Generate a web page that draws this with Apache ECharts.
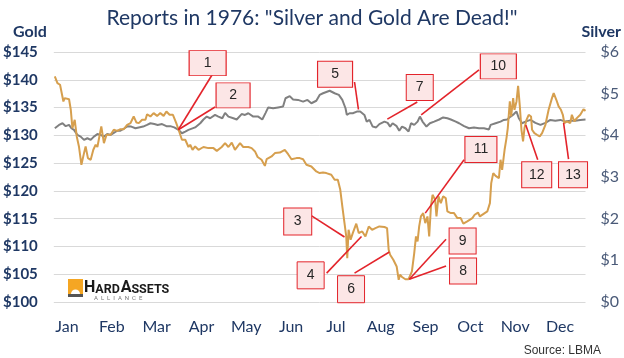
<!DOCTYPE html>
<html>
<head>
<meta charset="utf-8">
<script src="https://cdn.jsdelivr.net/npm/echarts@6/dist/echarts.min.js"></script>
<style>
html,body{margin:0;padding:0;background:#fff;}
#chart{width:624px;height:358px;}
</style>
</head>
<body>
<div id="chart"></div>
<script>
// ---- data ----
const months = ['Jan','Feb','Mar','Apr','May','Jun','Jul','Aug','Sep','Oct','Nov','Dec'];

// day of year (1976) and London gold price, USD/oz
const goldDays = [0.7,2.5,4.3,6.6,7.5,10.5,11.7,12.8,14.4,15.8,17.3,19,20.8,21.9,23.5,25.4,27.2,28.8,30,32.7,34.5,36.3,39.1,41.3,43.7,45.9,48.2,50.5,52.8,53.9,55,56.9,58.5,60.8,63.1,64.2,66.5,68.7,71.1,73.3,75.6,77.5,79.7,82,84.3,85.9,88.2,90.5,92.7,93.9,95.5,97.3,99.6,103,106.4,109.9,112.2,115.6,117.9,120.2,122.5,124.7,128.2,130.4,133.9,136.2,138.5,140.3,143,145.3,146.5,149.9,152.2,155.6,159,161.3,163.6,167,169.3,171.6,173.9,177.3,180.7,183,185.3,187.6,191,193.3,195.5,197.2,198.6,200.1,201.3,202,202.9,204.3,205.8,208.2,209.9,212.3,214.5,216.8,219.1,221.4,224.1,227.6,229.4,230.5,231.5,233.7,236,237.4,238.3,239.7,242,244.2,246.5,248.1,249.3,250.4,251.5,252.7,254.3,255.7,257.2,258.4,259.6,260.7,262.5,263.4,264.8,266.4,268,269.8,270.9,273.3,275.5,277.8,280.1,281.9,284.6,288.1,289.7,292,293.3,296.1,298.4,300.2,301.1,302.5,304.1,306.4,307.5,308.6,310.3,311.6,312.5,313.9,314.8,316.2,317.1,318.5,319.6,320.8,321.9,323,324,325.4,326.9,328.5,329.2,330.8,332.6,334.5,336.1,338.4,340.6,342.9,344.1,345.9,347.5,349.1,350.4,351.4,353.2,355.5,356.6,358.3,360,362.4,364.6,366];
const goldPrices = [140.6,139.4,139.1,136.1,136.7,136.5,134.6,131.3,132.8,129.8,128,124.7,126.8,128,125.9,125.6,127.4,128.3,127.9,131.6,128.6,130.1,130.1,131,130.8,131.1,131.1,131.9,132.2,132.8,133.4,132.3,132.2,132.8,132.8,133.8,133.4,134,133.5,134,133.5,134.3,133.7,133.7,132.2,131,129.2,129.2,127.9,128.3,127.4,128,127.4,127.9,127.7,127.7,127.2,127.9,128.6,127.9,128.7,127.4,128.6,127.9,127.9,127.7,127.1,126.1,125.6,124.5,125.7,126.2,126.8,126.9,127.4,126.6,125.7,125.9,125.9,125.7,124.7,124.4,123.5,123.2,123.3,123.2,122.9,122,122,120.2,117.2,114.2,111.8,107.9,113,111.2,112.4,114.1,112.4,112.7,111.8,113.6,113,113.3,113.6,113.5,113.3,109.4,108.5,107.6,106.4,104,104.9,104.5,104.1,104.1,105.5,108.8,111.8,110.9,113.6,115.4,116,114.2,115.4,111.8,117.2,119.3,118.4,115.4,119,117.8,119,118.7,116.3,116,116,115.1,115.1,114.1,114.5,115.1,115.7,116.1,115.4,115.9,116.3,117.8,121.4,123.2,122.7,122.3,125.6,123.8,127.4,129.5,131.3,136.1,133.4,136.7,134.6,136.1,138.9,135.2,131,128.9,131.3,132.8,133.7,133.4,131,130.4,130.1,129.8,130.4,131.9,134.6,136.7,137.6,136.4,135.2,134.6,133.7,132.2,132.5,132.2,133.7,132.5,133.1,133.7,134.7,134.4];

// day of year (1976) and London silver price, USD/oz
const silverDays = [0.7,3.6,6,8.2,10.5,12.1,13.9,16.2,18.5,20.8,23.1,25.4,27.6,30,32.2,34.5,36.8,39.1,41.3,43.7,45.9,48.7,50.9,53.3,56.2,58.5,61.5,64.2,66.5,69.2,71.5,74.5,77.5,80.2,82.9,85.9,88.2,90.5,92.7,97.3,100.8,103,105.3,107.6,111,113.3,116,117.9,120.2,123.6,125.9,129.3,131.6,133.9,137.3,140.7,143.5,145.8,147.6,151,154.4,157.8,159.5,162.4,164.7,168.1,171.6,174.6,177.3,180.7,183,185.3,189.9,193.3,196.2,198.6,200.8,201.7,203.6,205.8,208.6,210.9,213.8,215.4,217.3,219.5,221.9,224.1,227.6,229.8,231.5,233.2,236,237.8,239.7,242,244.2,245.9,248.1,250.4,252,253.8,256.5,258.9,261.8,265.3,268,270.9,273.3,276.7,279,282.4,285.8,289.2,292.7,296.1,299.5,300.7,304.1,307.5,309.8,312.1,314.4,316.7,318.5,320.1,322.3,324.7,328.1,331.5,335,338.4,341.8,345.2,348.7,352.1,355.5,358.9,362.4,366];
const silverPrices = [4.17,4.25,4.29,4.22,4.25,4.17,4.13,4.01,3.97,3.89,3.93,3.89,3.97,4.03,4.01,3.97,4.03,4.01,4.06,4.11,4.11,4.17,4.22,4.21,4.17,4.19,4.21,4.25,4.29,4.27,4.25,4.27,4.22,4.22,4.19,4.13,4.05,4.09,4.13,4.19,4.29,4.38,4.45,4.41,4.49,4.45,4.41,4.54,4.45,4.41,4.38,4.51,4.49,4.53,4.45,4.45,4.38,4.54,4.67,4.65,4.67,4.69,4.89,4.94,4.86,4.85,4.81,4.85,4.77,4.83,4.97,5.01,5.07,5.01,4.97,4.85,4.65,4.49,4.53,4.53,4.57,4.57,4.49,4.33,4.37,4.21,4.19,4.27,4.33,4.30,4.21,4.29,4.22,4.11,4.21,4.17,4.09,4.29,4.25,4.33,4.45,4.33,4.21,4.29,4.33,4.38,4.43,4.41,4.38,4.33,4.29,4.22,4.17,4.19,4.17,4.17,4.14,4.25,4.29,4.33,4.37,4.38,4.45,4.51,4.57,4.41,4.29,4.33,4.37,4.30,4.25,4.30,4.37,4.35,4.37,4.33,4.35,4.35,4.37,4.38];

// numbered callouts: which series they point at, and the point (day, price)
const calloutLabels = ['1','2','3','4','5','6','7','8','9','10','11','12','13'];
const calloutSeries = ['gold','gold','gold','gold','silver','gold','silver','gold','gold','silver','gold','silver','silver'];
const calloutDays   = [85.7,85.7,200.1,211.8,209.7,231,229.6,244.7,244.7,252.9,255.7,324.9,350.9];
const calloutValues = [131.0,131.0,111.7,111.8,4.62,109.0,4.39,104.1,104.1,4.49,116,4.25,4.30];

// ---- layout of callout boxes (day / gold-axis position) ----
const calloutLayout = [
  {box:[105.9,143.0], size:[37,25], from:[109.0,140.9]},
  {box:[123.4,137.2], size:[34,25], from:[111.0,135.1]},
  {box:[167.9,114.5], size:[28,27], from:[177.5,115.5]},
  {box:[176.8,104.8], size:[27,27], from:[187.8,105.2]},
  {box:[193.6,141.0], size:[35,26], from:[207.0,139.6]},
  {box:[204.6,102.3], size:[27,27], from:[207.0,105.2]},
  {box:[251.9,138.6], size:[27,26], from:[250.2,136.0]},
  {box:[281.7,105.6], size:[27,26], from:[270.0,106.5]},
  {box:[281.4,111.0], size:[27,26], from:[270.0,111.3]},
  {box:[306.0,142.4], size:[36,25], from:[292.7,141.8]},
  {box:[294.0,127.45], size:[32,26], from:[282.4,125.6]},
  {box:[332.4,122.9], size:[30,26], from:[333.1,125.6]},
  {box:[357.4,122.9], size:[29,26], from:[354.3,125.7]}
];

const GOLD_MIN = 100, GOLD_MAX = 145, SILVER_MIN = 0, SILVER_MAX = 6;
const toGoldScale = s => GOLD_MIN + (s - SILVER_MIN) * (GOLD_MAX - GOLD_MIN) / (SILVER_MAX - SILVER_MIN);

const goldData = goldDays.map((d, i) => [d, goldPrices[i]]);
const silverData = silverDays.map((d, i) => [d, silverPrices[i]]);

const RED = '#E3242B';
const NAVY = '#1F3864';

const markLineData = calloutLabels.map((lab, i) => {
  const v = calloutSeries[i] === 'silver' ? toGoldScale(calloutValues[i]) : calloutValues[i];
  return [{coord: calloutLayout[i].from}, {coord: [calloutDays[i], v]}];
});
const markPointData = calloutLabels.map((lab, i) => ({
  name: lab, value: lab, coord: calloutLayout[i].box, symbolSize: calloutLayout[i].size
}));

const chart = echarts.init(document.getElementById('chart'), null, {renderer: 'canvas'});
const option = {
  animation: false,
  backgroundColor: '#ffffff',
  title: [
    {text: 'Reports in 1976: "Silver and Gold Are Dead!"', left: 'center', top: 3,
     textStyle: {fontFamily: 'Lato', fontSize: 21, fontWeight: 'normal', color: NAVY}},
    {text: 'Source: LBMA', right: 18, top: 340,
     textStyle: {fontFamily: 'Liberation Sans', fontSize: 12, fontWeight: 'normal', color: '#333333'}}
  ],
  grid: [
    {left: 53, right: 37, top: 52, bottom: 56},
    {left: 44.6, width: 537.8, top: 52, bottom: 56, show: false}
  ],
  xAxis: [
    {type: 'value', gridIndex: 0, min: 0, max: 366, show: false},
    {type: 'category', gridIndex: 1, data: months, boundaryGap: true,
     axisLine: {show: false}, axisTick: {show: false}, splitLine: {show: false},
     axisLabel: {color: NAVY, fontSize: 16, fontFamily: 'Lato', margin: 17, interval: 0}}
  ],
  yAxis: [
    {type: 'value', gridIndex: 0, min: GOLD_MIN, max: GOLD_MAX, interval: 5,
     name: 'Gold', nameLocation: 'end', nameGap: 12,
     nameTextStyle: {align: 'right', color: NAVY, fontFamily: 'Lato', fontSize: 16, fontWeight: 'bold', padding: [0, 7, 0, 0]},
     axisLine: {show: false}, axisTick: {show: false},
     axisLabel: {formatter: '${value}', color: NAVY, fontFamily: 'Lato', fontSize: 15, fontWeight: 'bold', margin: 16},
     splitLine: {lineStyle: {color: '#D9D9D9', width: 1}}},
    {type: 'value', gridIndex: 0, position: 'right', min: SILVER_MIN, max: SILVER_MAX, interval: 1,
     name: 'Silver', nameLocation: 'end', nameGap: 12,
     nameTextStyle: {align: 'left', color: NAVY, fontFamily: 'Lato', fontSize: 16, fontWeight: 'bold', padding: [0, 0, 0, -4]},
     axisLine: {show: false}, axisTick: {show: false}, splitLine: {show: false},
     axisLabel: {formatter: '${value}', color: '#4A5A78', fontFamily: 'Lato', fontSize: 16, margin: 15}},
    {type: 'value', gridIndex: 1, show: false}
  ],
  series: [
    {name: 'Silver', type: 'line', xAxisIndex: 0, yAxisIndex: 1, data: silverData,
     showSymbol: false, symbol: 'none', lineStyle: {color: '#808080', width: 2}, z: 2},
    {name: 'Gold', type: 'line', xAxisIndex: 0, yAxisIndex: 0, data: goldData,
     showSymbol: false, symbol: 'none', lineStyle: {color: '#D69F4E', width: 2}, z: 3},
    {name: 'callouts', type: 'line', xAxisIndex: 0, yAxisIndex: 0, data: [], z: 10,
     markLine: {silent: true, symbol: ['none', 'none'], animation: false,
       lineStyle: {color: RED, width: 1.6, type: 'solid'}, label: {show: false},
       emphasis: {disabled: true}, data: markLineData},
     markPoint: {silent: true, symbol: 'rect', animation: false,
       itemStyle: {color: '#FCE6E6', borderColor: RED, borderWidth: 1},
       label: {show: true, position: 'inside', formatter: '{b}', color: '#262626', fontSize: 14, fontFamily: 'Liberation Sans'},
       data: markPointData}
    }
  ],
  graphic: [
    {type: 'group', left: 68, top: 279, children: [
      {type: 'rect', shape: {x: 0, y: 0, width: 15, height: 15}, style: {fill: '#F5A623'}},
      {type: 'sector', shape: {cx: 7.5, cy: 15, r: 4.5, startAngle: Math.PI, endAngle: 2 * Math.PI}, style: {fill: '#ffffff'}},
      {type: 'rect', shape: {x: 0, y: 15, width: 15, height: 3}, style: {fill: '#555555'}},
      {type: 'text', x: 16, y: 1, style: {
        text: '{b|H}{s|ARD}{g| }{b|A}{s|SSETS}',
        rich: {
          b: {fontFamily: 'Roboto', fontWeight: 'bold', fontSize: 16, fill: '#1a1a1a', verticalAlign: 'bottom'},
          s: {fontFamily: 'Roboto', fontWeight: 'bold', fontSize: 12.5, fill: '#1a1a1a', verticalAlign: 'bottom'},
          g: {fontSize: 3}
        }}},
      {type: 'text', x: 26, y: 16, style: {text: 'A  L  L  I  A  N  C  E', fontFamily: 'Roboto', fontSize: 6, fill: '#777777'}}
    ]}
  ]
};
chart.setOption(option);
</script>
</body>
</html>
